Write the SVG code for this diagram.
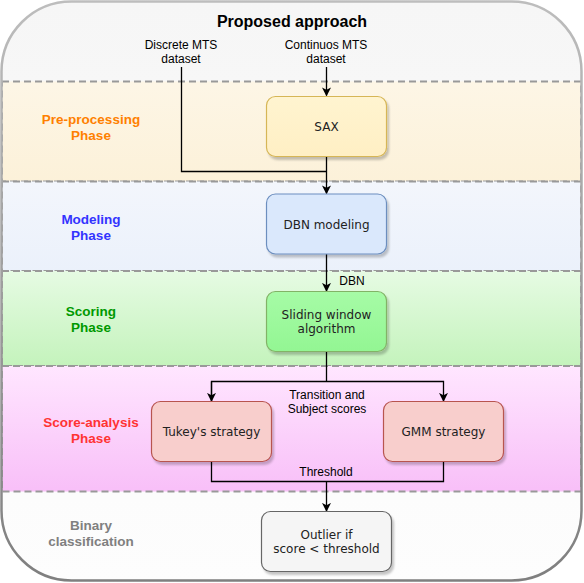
<svg xmlns="http://www.w3.org/2000/svg" width="584" height="583" viewBox="0 0 584 583">
<defs>
<linearGradient id="gCont" x1="0" y1="0" x2="0" y2="1"><stop offset="0" stop-color="#f6f6f6"/><stop offset="1" stop-color="#fdfdfd"/></linearGradient>
<linearGradient id="gPre" x1="0" y1="0" x2="0" y2="1"><stop offset="0" stop-color="#fdf6e6"/><stop offset="1" stop-color="#fcf1d9"/></linearGradient>
<linearGradient id="gMod" x1="0" y1="0" x2="0" y2="1"><stop offset="0" stop-color="#f3f6fc"/><stop offset="1" stop-color="#ebf1fb"/></linearGradient>
<linearGradient id="gSco" x1="0" y1="0" x2="0" y2="1"><stop offset="0" stop-color="#e6fbe3"/><stop offset="1" stop-color="#c4f3bc"/></linearGradient>
<linearGradient id="gAna" x1="0" y1="0" x2="0" y2="1"><stop offset="0" stop-color="#ffe6ff"/><stop offset="1" stop-color="#f8bff8"/></linearGradient>
<linearGradient id="gSax" x1="0" y1="0" x2="0" y2="1"><stop offset="0" stop-color="#fff4d0"/><stop offset="1" stop-color="#ffefc4"/></linearGradient>
<linearGradient id="gSld" x1="0" y1="0" x2="0" y2="1"><stop offset="0" stop-color="#a6fba6"/><stop offset="1" stop-color="#93f693"/></linearGradient>
<linearGradient id="gStroke" x1="0" y1="0" x2="0" y2="1"><stop offset="0" stop-color="#bdbdbd"/><stop offset="1" stop-color="#7f7f7f"/></linearGradient>
<filter id="sh" x="-10%" y="-10%" width="130%" height="140%"><feDropShadow dx="2" dy="3" stdDeviation="1" flood-color="#000" flood-opacity="0.22"/></filter>
<marker id="arr" viewBox="0 0 10 10" refX="9" refY="5" markerWidth="9" markerHeight="9" markerUnits="userSpaceOnUse" orient="auto"><path d="M0,0 L10,5 L0,10 L2.5,5 Z" fill="#000"/></marker>
</defs>
<style>
.band{stroke:#999;stroke-width:2;stroke-dasharray:7 4}
.node{stroke-width:1.2;filter:url(#sh)}
.nt{font-family:"DejaVu Sans",Verdana,sans-serif;font-size:12px;fill:#222;text-anchor:middle}
.lt{font-family:"Liberation Sans",Arial,sans-serif;font-size:12px;fill:#000;text-anchor:middle}
.ph{font-family:"Liberation Sans",Arial,sans-serif;font-size:13.5px;font-weight:bold;text-anchor:middle}
.ln{fill:none;stroke:#000;stroke-width:1.3}
</style>
<g id="container">
<rect x="1.5" y="1.5" width="580" height="579" rx="70" ry="70" fill="url(#gCont)" stroke="none"/>
</g>
<g id="bands">
<rect x="2" y="81.5" width="579" height="100" fill="url(#gPre)" class="band"/>
<rect x="2" y="181.5" width="579" height="89.5" fill="url(#gMod)" class="band"/>
<rect x="2" y="271" width="579" height="95" fill="url(#gSco)" class="band"/>
<rect x="2" y="366" width="579" height="125.5" fill="url(#gAna)" class="band"/>
</g>
<rect x="1.5" y="1.5" width="580" height="579" rx="70" ry="70" fill="none" stroke="url(#gStroke)" stroke-width="2.5"/>
<g id="labels">
<text x="292" y="27" font-family="Liberation Sans,Arial,sans-serif" font-size="16" font-weight="bold" text-anchor="middle" fill="#000">Proposed approach</text>
<text class="ph" x="91" y="123.5" fill="#ff8000">Pre-processing</text>
<text class="ph" x="91" y="139.5" fill="#ff8000">Phase</text>
<text class="ph" x="91" y="224" fill="#3333ff">Modeling</text>
<text class="ph" x="91" y="240" fill="#3333ff">Phase</text>
<text class="ph" x="91" y="316" fill="#009900">Scoring</text>
<text class="ph" x="91" y="332" fill="#009900">Phase</text>
<text class="ph" x="91" y="427" fill="#ff3333">Score-analysis</text>
<text class="ph" x="91" y="443" fill="#ff3333">Phase</text>
<text class="ph" x="91" y="529.5" fill="#808080">Binary</text>
<text class="ph" x="91" y="545.5" fill="#808080">classification</text>
<text class="lt" x="181" y="49">Discrete MTS</text>
<text class="lt" x="181" y="63">dataset</text>
<text class="lt" x="326" y="49">Continuos MTS</text>
<text class="lt" x="326" y="63">dataset</text>
</g>
<g id="connectors">
<path class="ln" d="M326.5,67 V95.5" marker-end="url(#arr)"/>
<path class="ln" d="M326.5,156.5 V193.5" marker-end="url(#arr)"/>
<path class="ln" d="M181.5,67 V171.5 H326.5"/>
<path class="ln" d="M326.5,254 V291" marker-end="url(#arr)"/>
<text class="lt" x="352" y="285">DBN</text>
<path class="ln" d="M326.5,351.5 V381.5"/>
<path class="ln" d="M211.5,401 V381.5 H443.5 V401" marker-end="url(#arr)"/>
<path class="ln" d="M211.5,381.5 V401" marker-end="url(#arr)"/>
<text class="lt" x="327" y="399">Transition and</text>
<text class="lt" x="327" y="413">Subject scores</text>
<path class="ln" d="M211.5,461.5 V481.5 H443.5 V461.5"/>
<path class="ln" d="M326.5,481.5 V511" marker-end="url(#arr)"/>
<text class="lt" x="326" y="475.5">Threshold</text>
</g>
<g id="node-sax">
<rect class="node" x="266.5" y="96.5" width="120" height="60" rx="9" fill="url(#gSax)" stroke="#d6b656"/>
<text class="nt" x="326.5" y="130.5">SAX</text>
</g>
<g id="node-dbn">
<rect class="node" x="266.5" y="194" width="120" height="60" rx="9" fill="#dae8fc" stroke="#6c8ebf"/>
<text class="nt" x="326.5" y="228.5">DBN modeling</text>
</g>
<g id="node-sliding">
<rect class="node" x="266.5" y="291.5" width="120" height="60" rx="9" fill="url(#gSld)" stroke="#82b366"/>
<text class="nt" x="326.5" y="318.5">Sliding window</text>
<text class="nt" x="326.5" y="332.5">algorithm</text>
</g>
<g id="node-tukey">
<rect class="node" x="151.5" y="401.5" width="120" height="60" rx="9" fill="#f8cecc" stroke="#b85450"/>
<text class="nt" x="211.5" y="436">Tukey's strategy</text>
</g>
<g id="node-gmm">
<rect class="node" x="383.5" y="401.5" width="120" height="60" rx="9" fill="#f8cecc" stroke="#b85450"/>
<text class="nt" x="443.5" y="436">GMM strategy</text>
</g>
<g id="node-outlier">
<rect class="node" x="261.5" y="511.5" width="130" height="60" rx="9" fill="#f5f5f5" stroke="#666666"/>
<text class="nt" x="326.5" y="539">Outlier if</text>
<text class="nt" x="326.5" y="553">score &lt; threshold</text>
</g>
</svg>
